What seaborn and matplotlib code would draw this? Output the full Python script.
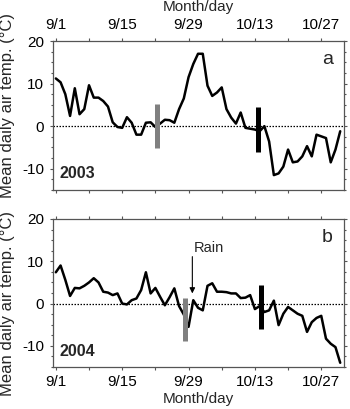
import numpy as np
import pandas as pd
import matplotlib
matplotlib.use("Agg")
import matplotlib.pyplot as plt
from matplotlib.ticker import FixedLocator, MultipleLocator
import seaborn as sns

# ---- data (day 0 = Sept 1) ----
days = list(range(61))
temp_2003 = [11.2, 10.3, 7.5, 2.4, 8.9, 2.8, 4.0, 9.6, 6.7, 6.7,
             5.9, 4.6, 0.9, -0.2, -0.4, 2.1, 0.8, -2.0, -2.0, 0.8,
             0.9, -0.2, 0.6, 1.5, 1.4, 0.8, 4.0, 6.5, 11.5, 14.6,
             17.0, 17.0, 9.5, 7.1, 7.9, 9.1, 4.0, 2.0, 0.6, 3.2,
             -0.4, -0.6, -0.8, -1.2, 0.0, -3.6, -11.5, -11.1, -9.5, -5.5,
             -8.5, -8.3, -7.1, -4.7, -7.1, -2.0, -2.4, -2.8, -8.5, -5.5,
             -1.2]
temp_2004 = [7.4, 9.0, 5.6, 1.8, 3.7, 3.6, 4.2, 5.0, 6.0, 5.0,
             2.8, 2.6, 2.0, 2.4, 0.0, -0.2, 0.8, 1.2, 3.2, 7.4,
             2.4, 3.7, 1.6, -0.4, 1.5, 3.6, -0.6, -2.6, -5.5, 0.8,
             -1.0, -1.6, 4.2, 4.8, 2.8, 2.8, 2.7, 2.4, 2.4, 1.3,
             1.4, 2.0, -1.3, -0.6, -2.0, -1.6, 0.7, -5.1, -2.4, -0.8,
             -1.6, -2.4, -2.9, -6.7, -4.4, -3.4, -2.9, -8.3, -9.5, -10.3,
             -14.0]

tick_days = [0, 14, 28, 42, 56]
tick_labels = ["9/1", "9/15", "9/29", "10/13", "10/27"]
minor_days = [7, 21, 35, 49]

# vertical bars: (day, low, high)
gray_bar_2003 = [21.4, -5.2, 5.1]
black_bar_2003 = [42.6, -6.1, 4.4]
gray_bar_2004 = [27.3, -8.9, 1.4]
black_bar_2004 = [43.3, -6.1, 4.4]
rain_day = 28.8
rain_tip = 2.4
rain_tail = 11.1

sns.set_style("ticks")
plt.rcParams['font.family'] = ['Liberation Sans', 'DejaVu Sans']
plt.rcParams['axes.unicode_minus'] = False

W, H = 350, 409
fig = plt.figure(figsize=(W / 100, H / 100), dpi=100)

def rect(l, t, r, b):
    return [l / W, 1 - b / H, (r - l) / W, (b - t) / H]

ax1 = fig.add_axes(rect(53, 41, 344, 190))
ax2 = fig.add_axes(rect(53, 219, 344, 367))

spine_col = "#555555"
df = pd.DataFrame({"day": days * 2,
                   "temp": temp_2003 + temp_2004,
                   "year": ["2003"] * len(days) + ["2004"] * len(days)})

for ax, yr, gb, bb, lab in [(ax1, "2003", gray_bar_2003, black_bar_2003, "a"),
                            (ax2, "2004", gray_bar_2004, black_bar_2004, "b")]:
    ax.axhline(0, color="black", lw=0.9, ls=(0, (1.2, 1.2)), zorder=1)
    sns.lineplot(data=df[df.year == yr], x="day", y="temp", ax=ax,
                 color="black", lw=1.8, zorder=3)
    ax.vlines([gb[0]], [gb[1]], [gb[2]], color="#808080", lw=3.6, zorder=4)
    ax.vlines([bb[0]], [bb[1]], [bb[2]], color="black", lw=3.6, zorder=4)
    ax.set_xlim(-0.6, 60.8)
    ax.set_ylim(-15, 20)
    ax.set_xlabel("")
    ax.set_ylabel("")
    ax.xaxis.set_major_locator(FixedLocator(tick_days))
    ax.xaxis.set_minor_locator(FixedLocator(minor_days))
    ax.set_xticklabels(tick_labels)
    ax.yaxis.set_major_locator(FixedLocator([-10, 0, 10, 20]))
    ax.yaxis.set_minor_locator(MultipleLocator(2.5))
    ax.set_yticklabels(["-10", "0", "10", "20"])
    for s in ax.spines.values():
        s.set_visible(True)
        s.set_color(spine_col)
        s.set_linewidth(0.9)
    ax.tick_params(which="both", direction="out", color=spine_col, width=0.8,
                   top=True, bottom=True, left=True, right=True,
                   labelright=False)
    ax.tick_params(which="major", length=2.5, pad=4, labelsize=11,
                   labelcolor="black")
    ax.tick_params(axis="x", which="minor", length=2.5)
    ax.tick_params(axis="y", which="minor", length=1.6)
    ax.text(0.943, 0.875, lab, transform=ax.transAxes, ha="center",
            va="center", fontsize=14)
    ax.text(0.022, 0.108, yr, transform=ax.transAxes, ha="left",
            va="center", fontsize=11.5, fontweight="bold")

ax1.tick_params(labeltop=True, labelbottom=False)
ax2.tick_params(labeltop=False, labelbottom=True)
ax2.tick_params(axis="x", which="major", pad=3)

ax2.annotate("", xy=(rain_day, rain_tip), xytext=(rain_day, rain_tail),
             arrowprops=dict(arrowstyle="-|>", color="black", lw=0.8,
                             mutation_scale=8, shrinkA=0, shrinkB=0),
             zorder=5)
ax2.text(rain_day + 0.2, rain_tail + 0.4, "Rain", ha="left", va="bottom",
         fontsize=10.5)

fig.text(198.5 / W, 1 - 7.5 / H, "Month/day", ha="center", va="center",
         fontsize=11)
fig.text(198.5 / W, 1 - 399 / H, "Month/day", ha="center", va="center",
         fontsize=11)
fig.text(7.5 / W, 1 - 105.5 / H, "Mean daily air temp. (°C)", rotation=90,
         ha="center", va="center", fontsize=12)
fig.text(7.5 / W, 1 - 303 / H, "Mean daily air temp. (°C)", rotation=90,
         ha="center", va="center", fontsize=12)

fig.savefig("out.png", dpi=100)
